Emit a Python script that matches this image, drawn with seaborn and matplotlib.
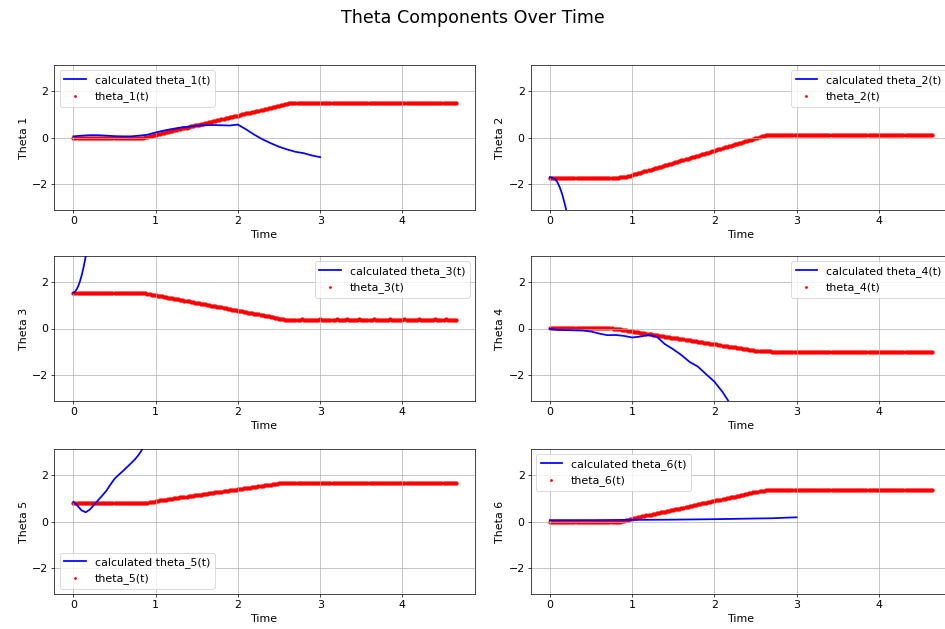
import numpy as np
import pandas as pd
import matplotlib
matplotlib.use("Agg")
import matplotlib.pyplot as plt
import seaborn as sns

# ---------------- data ----------------
time_ref = [
    0.000, 0.025, 0.050, 0.075, 0.100, 0.125, 0.150, 0.175, 0.200, 0.225,
    0.250, 0.275, 0.300, 0.325, 0.350, 0.375, 0.400, 0.425, 0.450, 0.475,
    0.500, 0.525, 0.550, 0.575, 0.600, 0.625, 0.650, 0.675, 0.700, 0.725,
    0.750, 0.775, 0.800, 0.825, 0.850, 0.875, 0.900, 0.925, 0.950, 0.975,
    1.000, 1.025, 1.050, 1.075, 1.100, 1.125, 1.150, 1.175, 1.200, 1.225,
    1.250, 1.275, 1.300, 1.325, 1.350, 1.375, 1.400, 1.425, 1.450, 1.475,
    1.500, 1.525, 1.550, 1.575, 1.600, 1.625, 1.650, 1.675, 1.700, 1.725,
    1.750, 1.775, 1.800, 1.825, 1.850, 1.875, 1.900, 1.925, 1.950, 1.975,
    2.000, 2.025, 2.050, 2.075, 2.100, 2.125, 2.150, 2.175, 2.200, 2.225,
    2.250, 2.275, 2.300, 2.325, 2.350, 2.375, 2.400, 2.425, 2.450, 2.475,
    2.500, 2.525, 2.550, 2.575, 2.600, 2.625, 2.650, 2.675, 2.700, 2.725,
    2.750, 2.775, 2.800, 2.825, 2.850, 2.875, 2.900, 2.925, 2.950, 2.975,
    3.000, 3.025, 3.050, 3.075, 3.100, 3.125, 3.150, 3.175, 3.200, 3.225,
    3.250, 3.275, 3.300, 3.325, 3.350, 3.375, 3.400, 3.425, 3.450, 3.475,
    3.500, 3.525, 3.550, 3.575, 3.600, 3.625, 3.650, 3.675, 3.700, 3.725,
    3.750, 3.775, 3.800, 3.825, 3.850, 3.875, 3.900, 3.925, 3.950, 3.975,
    4.000, 4.025, 4.050, 4.075, 4.100, 4.125, 4.150, 4.175, 4.200, 4.225,
    4.250, 4.275, 4.300, 4.325, 4.350, 4.375, 4.400, 4.425, 4.450, 4.475,
    4.500, 4.525, 4.550, 4.575, 4.600, 4.625, 4.650,
]

theta1_ref = [
    -0.03, -0.03, -0.03, -0.03, -0.03, -0.03, -0.03, -0.03, -0.03, -0.03,
    -0.03, -0.03, -0.03, -0.03, -0.03, -0.03, -0.03, -0.03, -0.03, -0.03,
    -0.03, -0.03, -0.03, -0.03, -0.03, -0.03, -0.03, -0.03, -0.03, -0.03,
    -0.03, -0.03, -0.02, -0.01, 0.00, 0.02, 0.04, 0.06, 0.08, 0.10,
    0.12, 0.14, 0.16, 0.18, 0.20, 0.23, 0.25, 0.27, 0.29, 0.31,
    0.33, 0.35, 0.37, 0.39, 0.41, 0.43, 0.45, 0.48, 0.50, 0.52,
    0.54, 0.56, 0.58, 0.60, 0.62, 0.64, 0.66, 0.68, 0.70, 0.73,
    0.75, 0.77, 0.79, 0.81, 0.83, 0.85, 0.87, 0.89, 0.91, 0.93,
    0.95, 0.98, 1.00, 1.02, 1.04, 1.06, 1.08, 1.10, 1.12, 1.14,
    1.16, 1.18, 1.20, 1.23, 1.25, 1.27, 1.29, 1.31, 1.33, 1.35,
    1.37, 1.39, 1.41, 1.44, 1.46, 1.48, 1.50, 1.50, 1.50, 1.50,
    1.50, 1.50, 1.50, 1.50, 1.50, 1.50, 1.50, 1.50, 1.50, 1.50,
    1.50, 1.50, 1.50, 1.50, 1.50, 1.50, 1.50, 1.50, 1.50, 1.50,
    1.50, 1.50, 1.50, 1.50, 1.50, 1.50, 1.50, 1.50, 1.50, 1.50,
    1.50, 1.50, 1.50, 1.50, 1.50, 1.50, 1.50, 1.50, 1.50, 1.50,
    1.50, 1.50, 1.50, 1.50, 1.50, 1.50, 1.50, 1.50, 1.50, 1.50,
    1.50, 1.50, 1.50, 1.50, 1.50, 1.50, 1.50, 1.50, 1.50, 1.50,
    1.50, 1.50, 1.50, 1.50, 1.50, 1.50, 1.50, 1.50, 1.50, 1.50,
    1.50, 1.50, 1.50, 1.50, 1.50, 1.50, 1.50,
]

theta2_ref = [
    -1.75, -1.75, -1.75, -1.75, -1.75, -1.75, -1.75, -1.75, -1.75, -1.75,
    -1.75, -1.75, -1.75, -1.75, -1.75, -1.75, -1.75, -1.75, -1.75, -1.75,
    -1.75, -1.75, -1.75, -1.75, -1.75, -1.75, -1.75, -1.75, -1.75, -1.75,
    -1.75, -1.75, -1.75, -1.74, -1.73, -1.72, -1.70, -1.69, -1.67, -1.65,
    -1.63, -1.60, -1.58, -1.55, -1.52, -1.50, -1.47, -1.44, -1.42, -1.39,
    -1.36, -1.34, -1.31, -1.29, -1.26, -1.23, -1.21, -1.18, -1.15, -1.13,
    -1.10, -1.07, -1.05, -1.02, -0.99, -0.97, -0.94, -0.91, -0.89, -0.86,
    -0.83, -0.81, -0.78, -0.75, -0.73, -0.70, -0.67, -0.65, -0.62, -0.59,
    -0.57, -0.54, -0.51, -0.49, -0.46, -0.43, -0.41, -0.38, -0.35, -0.33,
    -0.30, -0.27, -0.25, -0.22, -0.19, -0.17, -0.14, -0.11, -0.09, -0.06,
    -0.03, -0.01, 0.02, 0.05, 0.07, 0.09, 0.10, 0.10, 0.10, 0.10,
    0.10, 0.10, 0.10, 0.10, 0.10, 0.10, 0.10, 0.10, 0.10, 0.10,
    0.10, 0.10, 0.10, 0.10, 0.10, 0.10, 0.10, 0.10, 0.10, 0.10,
    0.10, 0.10, 0.10, 0.10, 0.10, 0.10, 0.10, 0.10, 0.10, 0.10,
    0.10, 0.10, 0.10, 0.10, 0.10, 0.10, 0.10, 0.10, 0.10, 0.10,
    0.10, 0.10, 0.10, 0.10, 0.10, 0.10, 0.10, 0.10, 0.10, 0.10,
    0.10, 0.10, 0.10, 0.10, 0.10, 0.10, 0.10, 0.10, 0.10, 0.10,
    0.10, 0.10, 0.10, 0.10, 0.10, 0.10, 0.10, 0.10, 0.10, 0.10,
    0.10, 0.10, 0.10, 0.10, 0.10, 0.10, 0.10,
]

theta3_ref = [
    1.55, 1.55, 1.55, 1.55, 1.55, 1.55, 1.55, 1.55, 1.55, 1.55,
    1.55, 1.55, 1.55, 1.55, 1.55, 1.55, 1.55, 1.55, 1.55, 1.55,
    1.55, 1.55, 1.55, 1.55, 1.55, 1.55, 1.55, 1.55, 1.55, 1.55,
    1.55, 1.55, 1.55, 1.54, 1.53, 1.52, 1.50, 1.49, 1.47, 1.46,
    1.44, 1.42, 1.41, 1.39, 1.37, 1.36, 1.34, 1.32, 1.31, 1.29,
    1.27, 1.26, 1.24, 1.22, 1.21, 1.19, 1.17, 1.16, 1.14, 1.12,
    1.11, 1.09, 1.07, 1.06, 1.04, 1.02, 1.01, 0.99, 0.97, 0.96,
    0.94, 0.92, 0.91, 0.89, 0.87, 0.86, 0.84, 0.82, 0.81, 0.79,
    0.77, 0.76, 0.74, 0.72, 0.71, 0.69, 0.67, 0.66, 0.64, 0.62,
    0.61, 0.59, 0.57, 0.56, 0.54, 0.52, 0.50, 0.48, 0.46, 0.44,
    0.42, 0.40, 0.39, 0.38, 0.37, 0.36, 0.38, 0.37, 0.35, 0.38,
    0.36, 0.39, 0.37, 0.36, 0.38, 0.37, 0.35, 0.38, 0.36, 0.37,
    0.39, 0.36, 0.38, 0.35, 0.37, 0.38, 0.36, 0.37, 0.39, 0.35,
    0.37, 0.38, 0.36, 0.39, 0.37, 0.36, 0.38, 0.35, 0.37, 0.39,
    0.36, 0.38, 0.37, 0.35, 0.38, 0.37, 0.39, 0.36, 0.38, 0.37,
    0.36, 0.38, 0.35, 0.37, 0.39, 0.36, 0.38, 0.37, 0.35, 0.38,
    0.37, 0.39, 0.36, 0.38, 0.37, 0.35, 0.38, 0.36, 0.39, 0.37,
    0.36, 0.38, 0.37, 0.35, 0.38, 0.36, 0.39, 0.37, 0.38, 0.36,
    0.37, 0.39, 0.36, 0.38, 0.37, 0.35, 0.38,
]

theta4_ref = [
    0.02, 0.02, 0.02, 0.02, 0.02, 0.02, 0.02, 0.02, 0.02, 0.02,
    0.02, 0.02, 0.02, 0.02, 0.02, 0.02, 0.02, 0.02, 0.02, 0.02,
    0.02, 0.02, 0.02, 0.02, 0.02, 0.02, 0.02, 0.02, 0.02, 0.02,
    0.01, 0.00, -0.02, -0.03, -0.04, -0.06, -0.07, -0.08, -0.10, -0.11,
    -0.12, -0.14, -0.15, -0.17, -0.18, -0.19, -0.21, -0.22, -0.24, -0.25,
    -0.26, -0.28, -0.29, -0.31, -0.32, -0.33, -0.35, -0.36, -0.37, -0.39,
    -0.40, -0.42, -0.43, -0.44, -0.46, -0.47, -0.49, -0.50, -0.51, -0.53,
    -0.54, -0.56, -0.57, -0.58, -0.60, -0.61, -0.62, -0.64, -0.65, -0.67,
    -0.68, -0.69, -0.71, -0.72, -0.74, -0.75, -0.76, -0.78, -0.79, -0.81,
    -0.82, -0.83, -0.85, -0.86, -0.87, -0.89, -0.90, -0.92, -0.93, -0.94,
    -0.96, -0.97, -0.98, -0.98, -0.98, -0.98, -0.98, -0.98, -1.01, -1.01,
    -1.01, -1.01, -1.01, -1.01, -1.01, -1.01, -1.01, -1.01, -1.01, -1.01,
    -1.01, -1.01, -1.01, -1.01, -1.01, -1.01, -1.01, -1.01, -1.01, -1.01,
    -1.01, -1.01, -1.01, -1.01, -1.01, -1.01, -1.01, -1.01, -1.01, -1.01,
    -1.01, -1.01, -1.01, -1.01, -1.01, -1.01, -1.01, -1.01, -1.01, -1.01,
    -1.01, -1.01, -1.01, -1.01, -1.01, -1.01, -1.01, -1.01, -1.01, -1.01,
    -1.01, -1.01, -1.01, -1.01, -1.01, -1.01, -1.01, -1.01, -1.01, -1.01,
    -1.01, -1.01, -1.01, -1.01, -1.01, -1.01, -1.01, -1.01, -1.01, -1.01,
    -1.01, -1.01, -1.01, -1.01, -1.01, -1.01, -1.01,
]

theta5_ref = [
    0.79, 0.79, 0.79, 0.79, 0.79, 0.79, 0.79, 0.79, 0.79, 0.79,
    0.79, 0.79, 0.79, 0.79, 0.79, 0.79, 0.79, 0.79, 0.79, 0.79,
    0.79, 0.79, 0.79, 0.79, 0.79, 0.79, 0.79, 0.79, 0.79, 0.79,
    0.79, 0.79, 0.79, 0.80, 0.80, 0.81, 0.82, 0.83, 0.85, 0.86,
    0.88, 0.89, 0.91, 0.92, 0.93, 0.94, 0.96, 0.97, 0.98, 1.00,
    1.01, 1.02, 1.04, 1.05, 1.06, 1.08, 1.09, 1.10, 1.11, 1.13,
    1.14, 1.15, 1.16, 1.18, 1.19, 1.20, 1.22, 1.23, 1.24, 1.26,
    1.27, 1.28, 1.29, 1.31, 1.32, 1.33, 1.35, 1.36, 1.37, 1.38,
    1.40, 1.41, 1.42, 1.44, 1.45, 1.46, 1.47, 1.49, 1.50, 1.51,
    1.53, 1.54, 1.55, 1.57, 1.58, 1.59, 1.60, 1.62, 1.63, 1.64,
    1.66, 1.67, 1.68, 1.68, 1.68, 1.68, 1.68, 1.68, 1.68, 1.68,
    1.68, 1.68, 1.68, 1.68, 1.68, 1.68, 1.68, 1.68, 1.68, 1.68,
    1.68, 1.68, 1.68, 1.68, 1.68, 1.68, 1.68, 1.68, 1.68, 1.68,
    1.68, 1.68, 1.68, 1.68, 1.68, 1.68, 1.68, 1.68, 1.68, 1.68,
    1.68, 1.68, 1.68, 1.68, 1.68, 1.68, 1.68, 1.68, 1.68, 1.68,
    1.68, 1.68, 1.68, 1.68, 1.68, 1.68, 1.68, 1.68, 1.68, 1.68,
    1.68, 1.68, 1.68, 1.68, 1.68, 1.68, 1.68, 1.68, 1.68, 1.68,
    1.68, 1.68, 1.68, 1.68, 1.68, 1.68, 1.68, 1.68, 1.68, 1.68,
    1.68, 1.68, 1.68, 1.68, 1.68, 1.68, 1.68,
]

theta6_ref = [
    -0.03, -0.03, -0.03, -0.03, -0.03, -0.03, -0.03, -0.03, -0.03, -0.03,
    -0.03, -0.03, -0.03, -0.03, -0.03, -0.03, -0.03, -0.03, -0.03, -0.03,
    -0.03, -0.03, -0.03, -0.03, -0.03, -0.03, -0.03, -0.03, -0.03, -0.03,
    -0.03, -0.03, -0.03, -0.02, 0.00, 0.02, 0.04, 0.06, 0.08, 0.10,
    0.12, 0.14, 0.16, 0.18, 0.20, 0.22, 0.24, 0.26, 0.28, 0.30,
    0.32, 0.33, 0.35, 0.37, 0.39, 0.41, 0.43, 0.45, 0.47, 0.49,
    0.51, 0.53, 0.55, 0.56, 0.58, 0.60, 0.62, 0.64, 0.66, 0.68,
    0.70, 0.72, 0.74, 0.76, 0.78, 0.80, 0.82, 0.83, 0.85, 0.87,
    0.89, 0.91, 0.93, 0.95, 0.97, 0.99, 1.01, 1.03, 1.05, 1.06,
    1.08, 1.10, 1.12, 1.14, 1.16, 1.18, 1.20, 1.22, 1.24, 1.26,
    1.28, 1.29, 1.31, 1.33, 1.34, 1.35, 1.35, 1.35, 1.35, 1.35,
    1.35, 1.35, 1.35, 1.35, 1.35, 1.35, 1.35, 1.35, 1.35, 1.35,
    1.35, 1.35, 1.35, 1.35, 1.35, 1.35, 1.35, 1.35, 1.35, 1.35,
    1.35, 1.35, 1.35, 1.35, 1.35, 1.35, 1.35, 1.35, 1.35, 1.35,
    1.35, 1.35, 1.35, 1.35, 1.35, 1.35, 1.35, 1.35, 1.35, 1.35,
    1.35, 1.35, 1.35, 1.35, 1.35, 1.35, 1.35, 1.35, 1.35, 1.35,
    1.35, 1.35, 1.35, 1.35, 1.35, 1.35, 1.35, 1.35, 1.35, 1.35,
    1.35, 1.35, 1.35, 1.35, 1.35, 1.35, 1.35, 1.35, 1.35, 1.35,
    1.35, 1.35, 1.35, 1.35, 1.35, 1.35, 1.35,
]

# calculated (blue) series
calc1_t = [0.0, 0.1, 0.2, 0.3, 0.4, 0.5, 0.6, 0.7, 0.8, 0.9,
           1.0, 1.1, 1.2, 1.3, 1.4, 1.5, 1.6, 1.7, 1.8, 1.9,
           2.0, 2.1, 2.2, 2.3, 2.4, 2.5, 2.6, 2.7, 2.8, 2.9, 3.0]
calc1 = [0.05, 0.08, 0.10, 0.10, 0.08, 0.06, 0.05, 0.05, 0.08, 0.12,
         0.22, 0.30, 0.37, 0.43, 0.47, 0.51, 0.53, 0.54, 0.53, 0.52,
         0.56, 0.35, 0.12, -0.08, -0.25, -0.40, -0.52, -0.62, -0.68, -0.78, -0.85]

calc2_t = [0.0, 0.03, 0.06, 0.09, 0.12, 0.15, 0.18, 0.21, 0.24]
calc2 = [-1.72, -1.74, -1.80, -1.92, -2.15, -2.45, -2.85, -3.30, -3.80]

calc3_t = [0.0, 0.02, 0.04, 0.06, 0.08, 0.10, 0.12, 0.14, 0.16, 0.18]
calc3 = [1.55, 1.60, 1.70, 1.85, 2.05, 2.30, 2.60, 2.95, 3.35, 3.80]

calc4_t = [0.0, 0.1, 0.2, 0.3, 0.4, 0.5, 0.6, 0.7, 0.8, 0.9,
           1.0, 1.1, 1.2, 1.3, 1.4, 1.5, 1.6, 1.7, 1.8, 1.9,
           2.0, 2.1, 2.2, 2.3]
calc4 = [-0.02, -0.06, -0.07, -0.08, -0.09, -0.13, -0.22, -0.29, -0.28, -0.32,
         -0.39, -0.35, -0.28, -0.36, -0.68, -0.90, -1.15, -1.45, -1.65, -1.98,
         -2.30, -2.75, -3.30, -3.90]

calc5_t = [0.0, 0.05, 0.1, 0.15, 0.2, 0.25, 0.3, 0.35, 0.4, 0.45,
           0.5, 0.55, 0.6, 0.65, 0.7, 0.75, 0.8, 0.85, 0.9]
calc5 = [0.85, 0.68, 0.48, 0.40, 0.52, 0.72, 0.92, 1.12, 1.33, 1.60,
         1.85, 2.02, 2.18, 2.35, 2.52, 2.70, 2.92, 3.20, 3.45]

calc6_t = [0.0, 0.5, 1.0, 1.5, 2.0, 2.5, 2.7, 2.9, 3.0]
calc6 = [0.06, 0.06, 0.07, 0.08, 0.10, 0.13, 0.14, 0.17, 0.18]

y_ticks = [-2, 0, 2]

ref_series = [theta1_ref, theta2_ref, theta3_ref, theta4_ref, theta5_ref, theta6_ref]
calc_series = [(calc1_t, calc1), (calc2_t, calc2), (calc3_t, calc3),
               (calc4_t, calc4), (calc5_t, calc5), (calc6_t, calc6)]
legend_locs = ["upper left", "upper right", "upper right", "upper right", "lower left", "upper left"]

# ---------------- figure ----------------
plt.rcParams["font.size"] = 12.5

W, H, DPI = 945, 629, 63
fig = plt.figure(figsize=(W / DPI, H / DPI), dpi=DPI)

col_left = [54.3, 530.7]
row_top = [65, 256, 449]
ax_w, ax_h = 420.7, 145


def make_ax(left, top):
    return fig.add_axes([left / W, 1 - (top + ax_h) / H, ax_w / W, ax_h / H])


for i in range(6):
    r, c = divmod(i, 2)
    ax = make_ax(col_left[c], row_top[r])
    ct, cv = calc_series[i]
    sns.lineplot(x=ct, y=cv, ax=ax, color="blue", linewidth=2,
                 label=f"calculated theta_{i + 1}(t)", errorbar=None, sort=False)
    sns.scatterplot(x=time_ref, y=ref_series[i], ax=ax, color="red", s=24,
                    linewidth=0, label=f"theta_{i + 1}(t)")
    ax.set_xlim(-0.2325, 4.8825)
    ax.set_ylim(-np.pi, np.pi)
    ax.set_yticks(y_ticks)
    ax.set_xlabel("Time")
    ax.set_ylabel(f"Theta {i + 1}")
    ax.grid(True)
    ax.legend(loc=legend_locs[i], markerscale=0.65)

fig.suptitle("Theta Components Over Time", fontsize=20, y=1 - 18 / H, va="center")

fig.savefig("out.png", dpi=DPI)
